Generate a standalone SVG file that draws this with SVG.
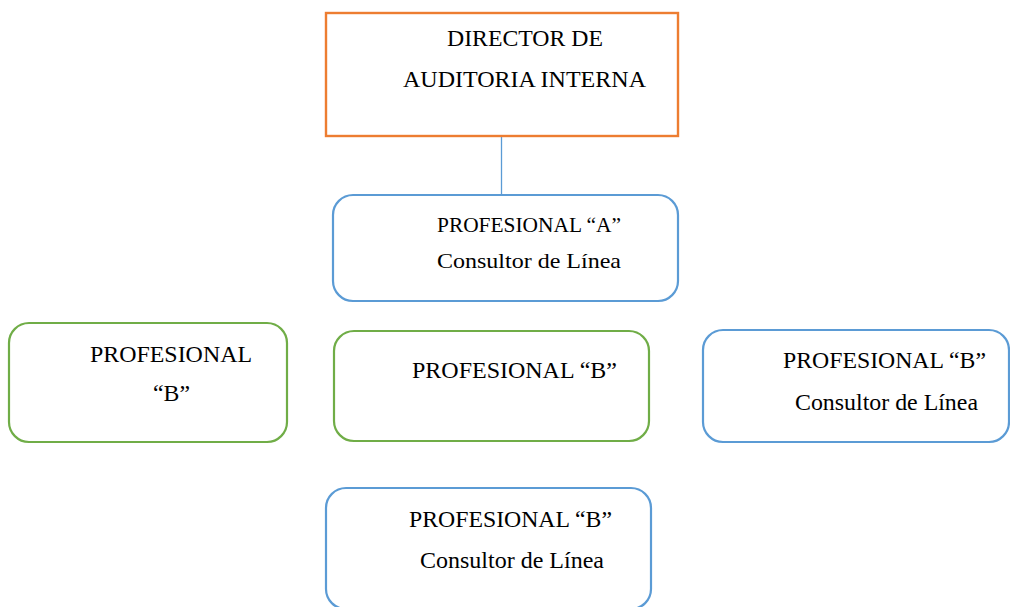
<svg xmlns="http://www.w3.org/2000/svg" width="1010" height="607" viewBox="0 0 1010 607">
<style>
.t{font-family:"Liberation Serif","Times New Roman",serif;font-size:22.5px;fill:#000}
.p{font-family:"Liberation Serif","Times New Roman",serif;font-size:23px;fill:#000}
.blue{fill:#fff;stroke:#5B9BD5;stroke-width:2.2}
.green{fill:#fff;stroke:#70AD47;stroke-width:2.2}
.orange{fill:#fff;stroke:#ED7D31;stroke-width:2.4}
</style>
<rect width="1010" height="607" fill="#fff"/>
<g id="connectors">
<line x1="501.5" y1="136" x2="501.5" y2="195" stroke="#5B9BD5" stroke-width="1.3"/>
</g>
<g id="director">
<rect class="orange" x="326" y="13" width="352" height="123"/>
<text class="p" x="447" y="46" textLength="156" lengthAdjust="spacingAndGlyphs">DIRECTOR DE</text>
<text class="p" x="403" y="87" textLength="243" lengthAdjust="spacingAndGlyphs">AUDITORIA INTERNA</text>
</g>
<g id="profA">
<rect class="blue" x="333" y="195" width="345" height="106" rx="20"/>
<text class="p" x="437" y="232" textLength="184" lengthAdjust="spacingAndGlyphs" style="font-size:21px">PROFESIONAL “A”</text>
<text class="p" x="437" y="268" textLength="184" lengthAdjust="spacingAndGlyphs" style="font-size:21px">Consultor de Línea</text>
</g>
<g id="profB1">
<rect class="green" x="9" y="323" width="278" height="119" rx="20"/>
<text class="t" x="90" y="362" textLength="162" lengthAdjust="spacingAndGlyphs">PROFESIONAL</text>
<text class="t" x="153" y="401" textLength="37" lengthAdjust="spacingAndGlyphs">“B”</text>
</g>
<g id="profB2">
<rect class="green" x="334" y="331" width="315" height="110" rx="20"/>
<text class="t" x="412" y="378" textLength="205" lengthAdjust="spacingAndGlyphs">PROFESIONAL “B”</text>
</g>
<g id="profB3">
<rect class="blue" x="703" y="330" width="306" height="112" rx="20"/>
<text class="t" x="783" y="368" textLength="203" lengthAdjust="spacingAndGlyphs">PROFESIONAL “B”</text>
<text class="t" x="795" y="410" textLength="183" lengthAdjust="spacingAndGlyphs">Consultor de Línea</text>
</g>
<g id="profB4">
<rect class="blue" x="326" y="488" width="325" height="121" rx="20"/>
<text class="t" x="409" y="527" textLength="203" lengthAdjust="spacingAndGlyphs">PROFESIONAL “B”</text>
<text class="t" x="420" y="568" textLength="184" lengthAdjust="spacingAndGlyphs">Consultor de Línea</text>
</g>
</svg>
